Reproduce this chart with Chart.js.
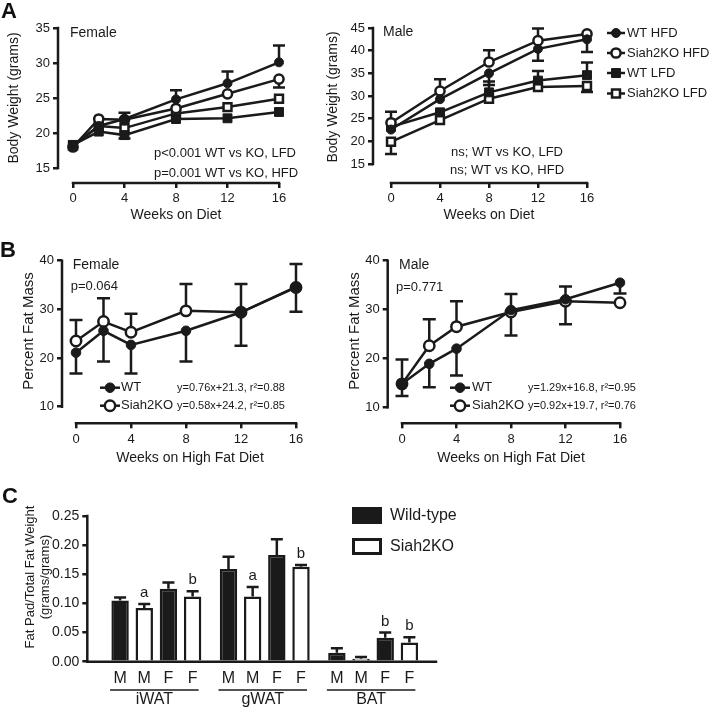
<!DOCTYPE html>
<html><head><meta charset="utf-8">
<script src="https://cdn.jsdelivr.net/npm/chart.js@4.4.1/dist/chart.umd.min.js"></script>
<style>
html,body{margin:0;padding:0;background:#fff;}
#wrap{position:relative;width:709px;height:712px;overflow:hidden;font-family:"Liberation Sans",Arial,sans-serif;}
#wrap canvas{position:absolute;left:0;top:0;}
.lbl{position:absolute;font-weight:bold;font-size:22px;line-height:22px;color:#111;}
</style></head><body>
<div id="wrap">
<canvas id="cAF" width="709" height="712"></canvas>
<canvas id="cAM" width="709" height="712"></canvas>
<canvas id="cBF" width="709" height="712"></canvas>
<canvas id="cBM" width="709" height="712"></canvas>
<canvas id="cC" width="709" height="712"></canvas>
<div class="lbl" style="left:1px;top:0px">A</div>
<div class="lbl" style="left:0px;top:239px">B</div>
<div class="lbl" style="left:2px;top:485px">C</div>
</div>
<script>
// ---------- Panel A : body weight ----------
const weekTicks = [0, 4, 8, 12, 16];
const bwTicksF = [15, 20, 25, 30, 35];
const bwTicksM = [15, 20, 25, 30, 35, 40, 45];

const weeksF = [0, 2, 4, 8, 12, 16];
const wtHfdF = [18.1, 21.0, 22.0, 24.8, 27.1, 30.1];
const wtHfdFErr = [null, null, 22.9, 26.1, 28.8, 32.5];
const koHfdF = [18.0, 22.0, 21.9, 23.5, 25.6, 27.7];
const koHfdFErr = [null, null, null, null, null, 26.5];
const wtLfdF = [18.3, 20.2, 19.7, 22.0, 22.1, 23.0];
const wtLfdFErr = [null, null, 19.2, null, null, null];
const koLfdF = [18.2, 21.0, 20.7, 22.8, 23.7, 24.9];
const koLfdFErr = [null, null, null, null, null, null];

const weeksM = [0, 4, 8, 12, 16];
const wtHfdM = [22.6, 29.3, 35.0, 40.4, 42.5];
const wtHfdMErr = [null, null, 32.4, 37.8, 39.7];
const koHfdM = [24.1, 31.1, 37.5, 42.2, 43.7];
const koHfdMErr = [26.5, 33.7, 40.1, 44.9, null];
const wtLfdM = [23.2, 26.4, 30.8, 33.4, 34.6];
const wtLfdMErr = [null, null, 33.2, 35.5, 37.4];
const koLfdM = [19.9, 24.7, 29.4, 32.0, 32.2];
const koLfdMErr = [17.2, null, null, null, 30.9];

// ---------- Panel B : percent fat mass ----------
const fatTicks = [10, 20, 30, 40];
const weeksB = [0, 2, 4, 8, 12, 16];
const wtFatF = [21.1, 25.6, 22.7, 25.6, 29.4, 34.6];
const wtFatFErr = [16.8, 19.3, 16.8, 19.3, 22.5, 29.5];
const koFatF = [23.5, 27.5, 25.3, 29.7, 29.4, 34.5];
const koFatFErr = [27.8, 32.3, 29.1, 35.2, 35.2, 39.3];
const wtFatM = [14.8, 18.9, 22.0, 29.9, 32.1, 35.5];
const wtFatMErr = [12.3, 14.1, 16.5, 24.7, 27.0, 33.3];
const koFatM = [14.8, 22.6, 26.5, 29.5, 31.7, 31.4];
const koFatMErr = [19.8, 28.0, 31.7, 33.2, 34.7, null];

// ---------- Panel C : fat pads ----------
const depots = ['iWAT', 'gWAT', 'BAT'];
const sexLabels = ['M', 'M', 'F', 'F'];
const padTicks = [0, 0.05, 0.10, 0.15, 0.20, 0.25];
const wtMale = [0.105, 0.159, 0.0155];
const wtMaleErr = [0.110, 0.180, 0.023];
const koMale = [0.092, 0.112, 0.005];
const koMaleErr = [0.099, 0.128, 0.008];
const wtFemale = [0.125, 0.183, 0.041];
const wtFemaleErr = [0.136, 0.210, 0.050];
const koFemale = [0.112, 0.163, 0.033];
const koFemaleErr = [0.121, 0.166, 0.042];
const koMaleSig = ['a', 'a', ''];
const wtFemaleSig = ['', '', 'b'];
const koFemaleSig = ['b', 'b', 'b'];

// ---------------------------------------------------------------
const INK = '#1a1a1a';
const FAM = "'Liberation Sans', Arial, Helvetica, sans-serif";
Chart.defaults.font.family = FAM;
Chart.defaults.color = INK;
Chart.defaults.animation = false;

function marker(ctx, ds, x, y) {
  const r = ds.pointRadius;
  ctx.save();
  ctx.fillStyle = ds.pointBackgroundColor;
  ctx.strokeStyle = ds.pointBorderColor;
  ctx.lineWidth = ds.pointBorderWidth;
  ctx.beginPath();
  if (ds.pointStyle === 'rect') { const s = r * Math.SQRT1_2; ctx.rect(x - s, y - s, 2 * s, 2 * s); }
  else ctx.arc(x, y, r, 0, Math.PI * 2);
  ctx.fill();
  if (ds.pointBorderWidth > 0) ctx.stroke();
  ctx.restore();
}

function drawErr(chart, o) {
  const ctx = chart.ctx, ys = chart.scales.y;
  chart.data.datasets.forEach((ds, i) => {
    if (!ds.errEnd) return;
    const meta = chart.getDatasetMeta(i);
    ds.errEnd.forEach((e, j) => {
      if (e == null) return;
      const el = meta.data[j];
      const y1 = ys.getPixelForValue(e);
      ctx.save();
      ctx.strokeStyle = INK; ctx.lineWidth = o.errWidth || 2.5; ctx.lineCap = 'butt';
      ctx.beginPath();
      ctx.moveTo(el.x, el.y); ctx.lineTo(el.x, y1);
      ctx.moveTo(el.x - o.cap / 2, y1); ctx.lineTo(el.x + o.cap / 2, y1);
      ctx.stroke();
      if (ds.sig && ds.sig[j]) {
        ctx.fillStyle = INK; ctx.font = `15px ${FAM}`;
        ctx.textAlign = 'center'; ctx.textBaseline = 'alphabetic';
        ctx.fillText(ds.sig[j], el.x, y1 - 7);
      }
      ctx.restore();
    });
  });
}

const extras = {
  id: 'extras',
  beforeDatasetsDraw(chart, args, o) { if (o.errBehind) drawErr(chart, o); },
  afterDatasetsDraw(chart, args, o) { if (!o.errBehind) drawErr(chart, o); },
  afterDraw(chart, args, o) {
    const ctx = chart.ctx, xs = chart.scales.x, ys = chart.scales.y, ca = chart.chartArea;
    ctx.save();
    ctx.strokeStyle = INK; ctx.lineWidth = 2.5; ctx.lineCap = 'square';
    if (o.axes) {
      ctx.beginPath();
      ctx.moveTo(ca.left, ys.getPixelForValue(o.axes.y[0]));
      ctx.lineTo(ca.left, ys.getPixelForValue(o.axes.y[1]));
      ctx.moveTo(xs.getPixelForValue(o.axes.x[0]), ca.bottom);
      ctx.lineTo(xs.getPixelForValue(o.axes.x[1]), ca.bottom);
      ctx.stroke();
    }
    ctx.restore();
    (o.legend || []).forEach(it => {
      const ds = chart.data.datasets[it.ds];
      ctx.save();
      if (it.box) {
        ctx.fillStyle = ds.backgroundColor; ctx.strokeStyle = INK; ctx.lineWidth = 3;
        ctx.fillRect(it.x, it.y - it.h / 2, it.w, it.h);
        ctx.strokeRect(it.x + 1.5, it.y - it.h / 2 + 1.5, it.w - 3, it.h - 3);
      } else {
        ctx.strokeStyle = INK; ctx.lineWidth = 2.5;
        ctx.beginPath(); ctx.moveTo(it.x - it.half, it.y); ctx.lineTo(it.x + it.half, it.y); ctx.stroke();
        marker(ctx, ds, it.x, it.y);
      }
      ctx.fillStyle = INK; ctx.font = `${it.size}px ${FAM}`;
      ctx.textAlign = 'left'; ctx.textBaseline = 'middle';
      ctx.fillText(ds.label, it.tx, it.y);
      ctx.restore();
    });
    (o.texts || []).forEach(t => {
      ctx.save();
      ctx.fillStyle = INK; ctx.font = `${t.s}px ${FAM}`;
      ctx.textAlign = t.a || 'left'; ctx.textBaseline = 'middle';
      ctx.translate(t.x, t.y);
      if (t.rot) ctx.rotate(t.rot * Math.PI / 180);
      ctx.fillText(t.t, 0, 0);
      ctx.restore();
    });
    if (o.groups) o.groups(chart);
  }
};

function axisOpts(range, ticks, isX, size, fontSize, fmt, showTicks) {
  return {
    type: 'linear', min: range[0], max: range[1], offset: false,
    afterBuildTicks: s => { s.ticks = ticks.map(v => ({ value: v })); },
    afterFit: s => { if (isX) s.height = size; else s.width = size; },
    grid: { display: showTicks !== false, offset: false, drawOnChartArea: false, drawTicks: true, tickLength: 5, lineWidth: 2.5, color: INK },
    border: { display: false },
    ticks: { display: showTicks !== false, color: INK, font: { size: fontSize }, padding: 3, autoSkip: false, maxRotation: 0, callback: fmt || (v => String(v)) }
  };
}

function pts(xs, ys) { return xs.map((x, i) => ({ x, y: ys[i] })); }

function lineDs(label, xs, ys, err, style) {
  return Object.assign({
    label, data: pts(xs, ys), errEnd: err, borderColor: INK, borderWidth: 2.5, tension: 0, clip: false,
    pointBorderColor: INK, pointHoverRadius: 0
  }, style);
}
const FILLED_C = { pointStyle: 'circle', pointRadius: 4.5, pointBackgroundColor: INK, pointBorderWidth: 1 };
const OPEN_C = { pointStyle: 'circle', pointRadius: 4.6, pointBackgroundColor: '#fff', pointBorderWidth: 2.5 };
const FILLED_S = { pointStyle: 'rect', pointRadius: 6.3, pointBackgroundColor: INK, pointBorderWidth: 1 };
const OPEN_S = { pointStyle: 'rect', pointRadius: 5.6, pointBackgroundColor: '#fff', pointBorderWidth: 2.5 };
const FILLED_CB = Object.assign({}, FILLED_C, { pointRadius: 4.8 });
const OPEN_CB = Object.assign({}, OPEN_C, { pointRadius: 5.2 });

function lineChart(id, box, xr, yr, yTicks, datasets, ex) {
  return new Chart(document.getElementById(id), {
    type: 'line',
    data: { datasets },
    options: {
      responsive: false, animation: false, events: [],
      layout: { padding: { left: 0, top: box.top, right: 709 - box.right, bottom: 0 } },
      plugins: { legend: { display: false }, tooltip: { enabled: false }, extras: ex },
      scales: {
        x: axisOpts(xr, weekTicks, true, 712 - box.bottom, 13),
        y: axisOpts(yr, yTicks, false, box.left, 13)
      }
    },
    plugins: [extras]
  });
}

// ---- A Female
lineChart('cAF', { left: 58, top: 28, right: 279, bottom: 183 }, [-1.165, 16], [12.857, 35], bwTicksF, [
  lineDs('WT HFD', weeksF, wtHfdF, wtHfdFErr, FILLED_C),
  lineDs('Siah2KO HFD', weeksF, koHfdF, koHfdFErr, OPEN_C),
  lineDs('WT LFD', weeksF, wtLfdF, wtLfdFErr, FILLED_S),
  lineDs('Siah2KO LFD', weeksF, koLfdF, koLfdFErr, OPEN_S)
], {
  errBehind: true, cap: 12, axes: { x: [0, 16], y: [15, 35] },
  texts: [
    { t: 'Female', x: 70, y: 33, s: 14 },
    { t: 'p<0.001 WT vs KO, LFD', x: 154, y: 153, s: 13 },
    { t: 'p=0.001 WT vs KO, HFD', x: 154, y: 173, s: 13 },
    { t: 'Body Weight (grams)', x: 14, y: 98, s: 14, a: 'center', rot: -90 },
    { t: 'Weeks on Diet', x: 176, y: 215, s: 14, a: 'center' }
  ]
});

// ---- A Male
lineChart('cAM', { left: 373, top: 28, right: 587, bottom: 183 }, [-1.469, 16], [10.81, 45], bwTicksM, [
  lineDs('WT HFD', weeksM, wtHfdM, wtHfdMErr, FILLED_C),
  lineDs('Siah2KO HFD', weeksM, koHfdM, koHfdMErr, OPEN_C),
  lineDs('WT LFD', weeksM, wtLfdM, wtLfdMErr, FILLED_S),
  lineDs('Siah2KO LFD', weeksM, koLfdM, koLfdMErr, OPEN_S)
], {
  errBehind: true, cap: 12, axes: { x: [0, 16], y: [15, 45] },
  texts: [
    { t: 'Male', x: 383, y: 32, s: 14 },
    { t: 'ns; WT vs KO, LFD', x: 507, y: 152, s: 13, a: 'center' },
    { t: 'ns; WT vs KO, HFD', x: 507, y: 170, s: 13, a: 'center' },
    { t: 'Body Weight (grams)', x: 333, y: 97, s: 14, a: 'center', rot: -90 },
    { t: 'Weeks on Diet', x: 489, y: 215, s: 14, a: 'center' }
  ],
  legend: [
    { ds: 0, x: 616, y: 33, half: 9, tx: 627, size: 13 },
    { ds: 1, x: 616, y: 53, half: 9, tx: 627, size: 13 },
    { ds: 2, x: 616, y: 73, half: 9, tx: 627, size: 13 },
    { ds: 3, x: 616, y: 93.5, half: 9, tx: 627, size: 13 }
  ]
});

// ---- B Female
lineChart('cBF', { left: 62, top: 260.7, right: 296, bottom: 423.3 }, [-1.018, 16], [6.59, 40], fatTicks, [
  lineDs('WT', weeksB, wtFatF, wtFatFErr, FILLED_CB),
  lineDs('Siah2KO', weeksB, koFatF, koFatFErr, OPEN_CB)
], {
  errBehind: true, cap: 13, axes: { x: [0, 16], y: [10, 40] },
  texts: [
    { t: 'Female', x: 72.7, y: 265, s: 14 },
    { t: 'p=0.064', x: 70.7, y: 286, s: 13 },
    { t: 'Percent Fat Mass', x: 29, y: 331, s: 15, a: 'center', rot: -90 },
    { t: 'Weeks on High Fat Diet', x: 190, y: 458, s: 14, a: 'center' },
    { t: 'y=0.76x+21.3, r\u00b2=0.88', x: 177, y: 388, s: 11 },
    { t: 'y=0.58x+24.2, r\u00b2=0.85', x: 177, y: 406, s: 11 }
  ],
  legend: [
    { ds: 0, x: 110, y: 387.7, half: 10, tx: 121, size: 13 },
    { ds: 1, x: 110, y: 405.7, half: 10, tx: 121, size: 13 }
  ]
});

// ---- B Male
lineChart('cBM', { left: 387.7, top: 260.7, right: 620, bottom: 423.3 }, [-1.05, 16], [6.73, 40], fatTicks, [
  lineDs('WT', weeksB, wtFatM, wtFatMErr, FILLED_CB),
  lineDs('Siah2KO', weeksB, koFatM, koFatMErr, OPEN_CB)
], {
  errBehind: true, cap: 13, axes: { x: [0, 16], y: [10, 40] },
  texts: [
    { t: 'Male', x: 399, y: 265, s: 14 },
    { t: 'p=0.771', x: 396, y: 287, s: 13 },
    { t: 'Percent Fat Mass', x: 355, y: 331, s: 15, a: 'center', rot: -90 },
    { t: 'Weeks on High Fat Diet', x: 511, y: 458, s: 14, a: 'center' },
    { t: 'y=1.29x+16.8, r\u00b2=0.95', x: 528, y: 388, s: 11 },
    { t: 'y=0.92x+19.7, r\u00b2=0.76', x: 528, y: 406, s: 11 }
  ],
  legend: [
    { ds: 0, x: 460, y: 387.7, half: 10, tx: 472, size: 13 },
    { ds: 1, x: 460, y: 405.7, half: 10, tx: 472, size: 13 }
  ]
});

// ---- C
function barDs(label, vals, err, sig, fill) {
  return { label, data: depots.map((d, i) => ({ x: i, y: vals[i] })), errEnd: err, sig,
    backgroundColor: fill, borderColor: INK, borderWidth: 2.5, categoryPercentage: 0.892, barPercentage: 0.72 };
}
new Chart(document.getElementById('cC'), {
  type: 'bar',
  data: { datasets: [
    barDs('Wild-type', wtMale, wtMaleErr, null, INK),
    barDs('Siah2KO', koMale, koMaleErr, koMaleSig, '#fff'),
    barDs('Wild-type', wtFemale, wtFemaleErr, wtFemaleSig, INK),
    barDs('Siah2KO', koFemale, koFemaleErr, koFemaleSig, '#fff')
  ] },
  options: {
    responsive: false, animation: false, events: [],
    layout: { padding: { left: 0, top: 516, right: 709 - 436, bottom: 0 } },
    plugins: { legend: { display: false }, tooltip: { enabled: false },
      extras: {
        errBehind: false, cap: 12, axes: { x: [-0.637, 2.58], y: [0, 0.25] },
        texts: [
          { t: 'Fat Pad/Total Fat Weight', x: 30, y: 577, s: 13, a: 'center', rot: -90 },
          { t: '(grams/grams)', x: 45, y: 577, s: 13, a: 'center', rot: -90 }
        ],
        legend: [
          { ds: 0, box: true, x: 352, y: 515.5, w: 30, h: 17, tx: 390, size: 16 },
          { ds: 1, box: true, x: 352, y: 546.5, w: 30, h: 17, tx: 390, size: 16 }
        ],
        groups: chart => {
          const ctx = chart.ctx;
          const metas = [0, 1, 2, 3].map(i => chart.getDatasetMeta(i));
          ctx.save();
          ctx.fillStyle = INK; ctx.strokeStyle = INK;
          depots.forEach((d, g) => {
            ctx.font = `16px ${FAM}`; ctx.textAlign = 'center'; ctx.textBaseline = 'middle';
            metas.forEach((m, k) => ctx.fillText(sexLabels[k], m.data[g].x, 679));
            const x0 = metas[0].data[g].x - 10, x1 = metas[3].data[g].x + 6;
            ctx.lineWidth = 1.5;
            ctx.beginPath(); ctx.moveTo(x0, 690); ctx.lineTo(x1, 690); ctx.stroke();
            ctx.fillText(d, (x0 + x1) / 2, 700);
          });
          ctx.restore();
        }
      }
    },
    scales: {
      x: Object.assign(axisOpts([-0.637, 2.58], [0, 1, 2], true, 712 - 661.7, 14, null, false)),
      y: axisOpts([0, 0.25], padTicks, false, 87.3, 14, v => v.toFixed(2))
    }
  },
  plugins: [extras]
});
</script>
</body></html>
